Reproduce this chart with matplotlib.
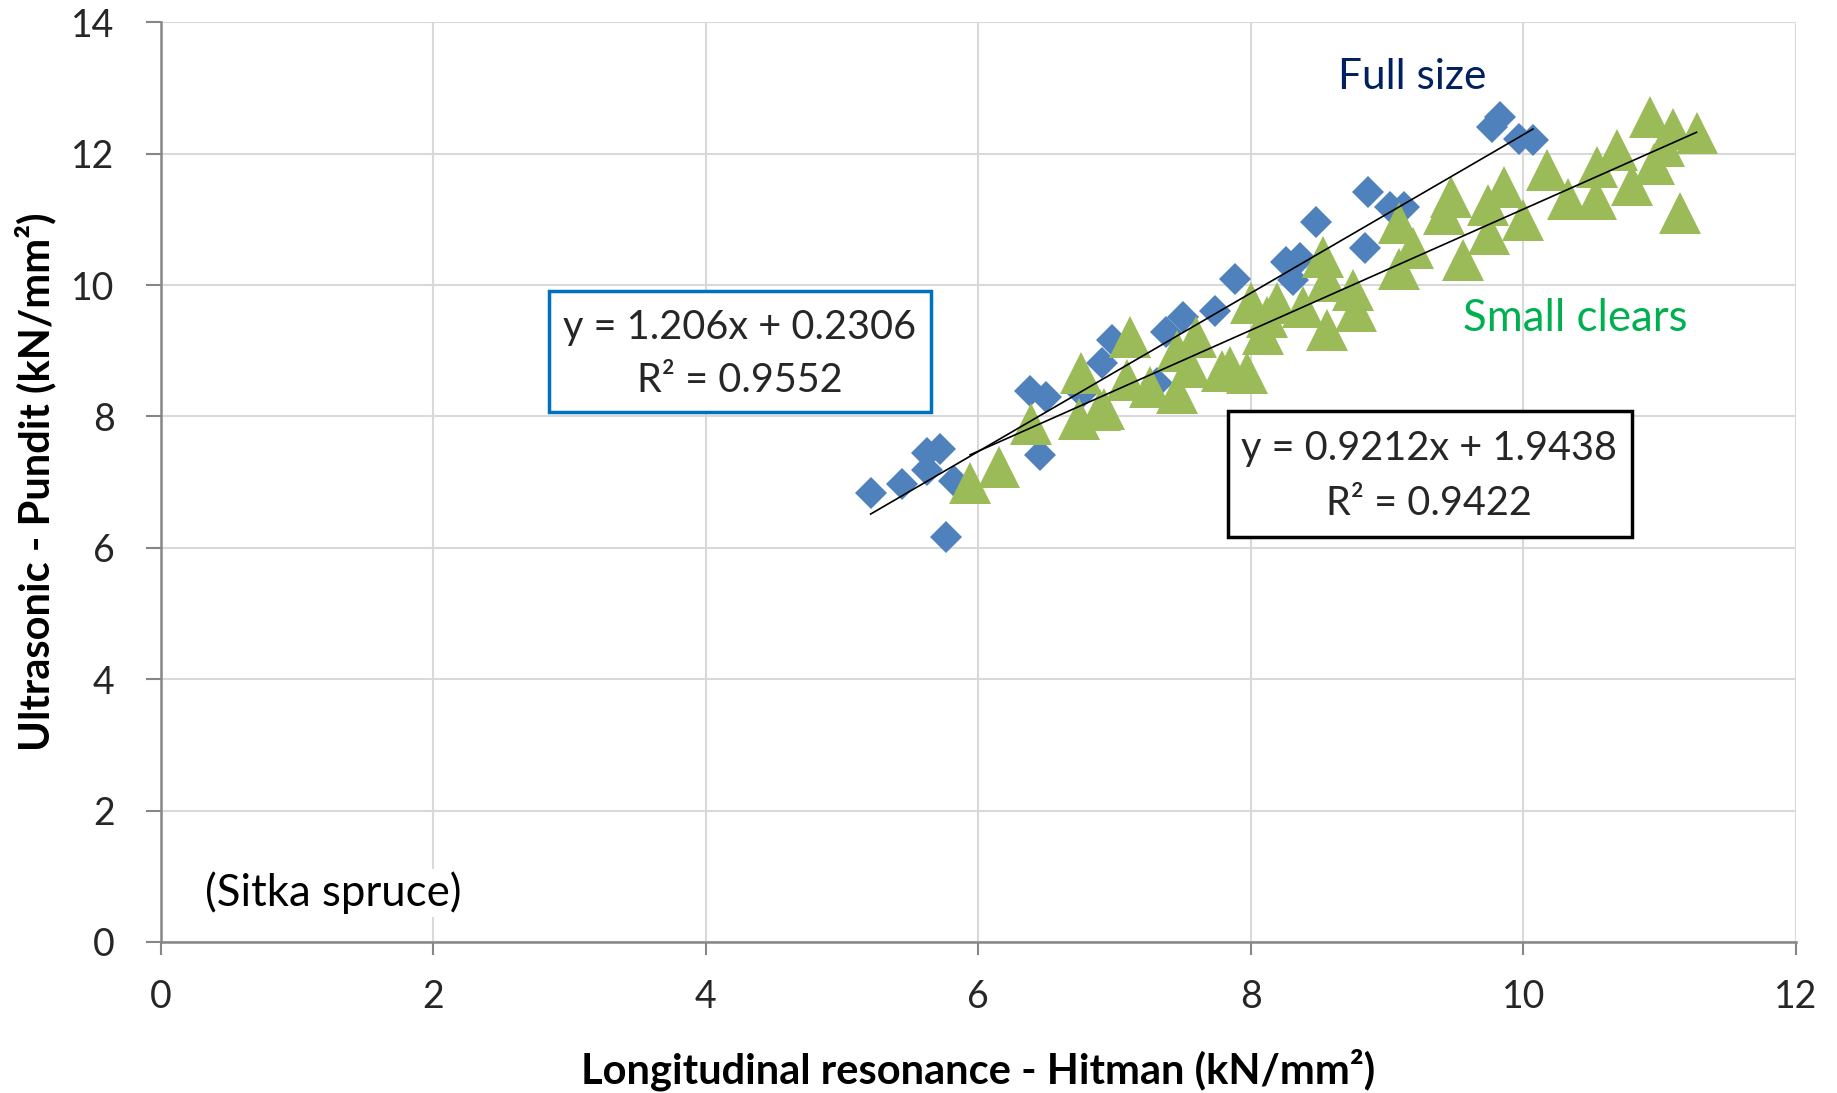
import matplotlib
matplotlib.use("Agg")
import matplotlib.pyplot as plt
from matplotlib.patches import Rectangle
import numpy as np

plt.rcParams['font.family'] = ['Lato', 'DejaVu Sans']

# Full size (blue diamonds)
full_x = [5.21, 5.44, 5.62, 5.62, 5.72, 5.76, 5.82, 6.38, 6.50, 6.45, 6.76, 6.91, 6.98,
          7.31, 7.38, 7.50, 7.74, 7.88, 8.26, 8.36, 8.31, 8.48, 8.84, 8.86, 9.02, 9.12,
          9.77, 9.83, 9.97, 10.07]
full_y = [6.83, 6.97, 7.19, 7.44, 7.51, 6.17, 7.01, 8.38, 8.29, 7.41, 8.36, 8.81, 9.17,
          8.51, 9.29, 9.52, 9.60, 10.09, 10.35, 10.41, 10.08, 10.96, 10.56, 11.42, 11.19, 11.19,
          12.41, 12.56, 12.23, 12.21]

# Small clears (green triangles)
small_x = [5.94, 6.15, 6.39, 6.74, 6.75, 6.89, 6.92, 7.11, 7.09, 7.26, 7.46, 7.46, 7.60,
           7.55, 7.85, 7.97, 7.79, 8.00, 8.12, 8.09, 8.19, 8.38, 8.53, 8.56, 8.56, 8.75,
           8.77, 9.09, 9.09, 9.19, 9.42, 9.47, 9.56, 9.75, 9.74, 9.86, 10.00, 10.17, 10.33,
           10.53, 10.54, 10.69, 10.80, 10.93, 10.96, 11.03, 11.10, 11.15, 11.27]
small_y = [6.98, 7.23, 7.89, 7.96, 8.66, 8.10, 8.12, 9.21, 8.55, 8.45, 8.36, 8.99, 9.21,
           8.76, 8.76, 8.66, 8.69, 9.72, 9.52, 9.26, 9.72, 9.67, 10.43, 9.32, 10.06, 9.93,
           9.61, 10.24, 10.95, 10.56, 11.08, 11.34, 10.38, 10.77, 11.22, 11.50, 10.99, 11.75, 11.31,
           11.31, 11.80, 12.06, 11.52, 12.56, 11.84, 12.11, 12.38, 11.09, 12.31]

# Trend line coefficients (from the chart's equations)
full_slope, full_icpt, full_r2 = 1.206, 0.2306, 0.9552
small_slope, small_icpt, small_r2 = 0.9212, 1.9438, 0.9422

x_ticks = [0, 2, 4, 6, 8, 10, 12]
y_ticks = [0, 2, 4, 6, 8, 10, 12, 14]

fig = plt.figure(figsize=(18.37, 10.93), dpi=100)
ax = fig.add_axes([0.0874, 0.1382, 0.8903, 0.8414])

ax.set_xlim(0, 12)
ax.set_ylim(0, 14)
ax.set_xticks(x_ticks)
ax.set_yticks(y_ticks)
ax.grid(True, color='#D9D9D9', linewidth=1.5, zorder=0)
ax.set_axisbelow(True)
for s in ['top', 'right']:
    ax.spines[s].set_visible(False)
for s in ['left', 'bottom']:
    ax.spines[s].set_color('#868686')
    ax.spines[s].set_linewidth(1.8)
ax.tick_params(axis='y', length=11, width=1.5, color='#868686', labelsize=27, pad=22, labelcolor='#262626')
ax.tick_params(axis='x', length=9, width=1.5, color='#868686', labelsize=27, pad=18, labelcolor='#262626')

ax.plot(full_x, full_y, linestyle='none', marker='D', markersize=16.5,
        color='#4F81BD', markeredgewidth=0, zorder=3)
ax.plot(small_x, small_y, linestyle='none', marker='^', markersize=30,
        color='#9BBB59', markeredgewidth=0, zorder=4)

fx = np.array([min(full_x), max(full_x)])
ax.plot(fx, full_slope * fx + full_icpt, color='black', linewidth=1.2, zorder=5)
sx = np.array([min(small_x), max(small_x)])
ax.plot(sx, small_slope * sx + small_icpt, color='black', linewidth=1.2, zorder=5)

# Equation boxes
ax.add_patch(Rectangle((2.85, 8.06), 2.80, 1.85, fill=True, facecolor='white',
                       edgecolor='#0070C0', linewidth=2.5, zorder=6))
ax.text(4.25, 9.36, f"y = {full_slope}x + {full_icpt}", ha='center', va='center',
        fontsize=28.5, color='#262626', zorder=7)
ax.text(4.25, 8.54, f"R² = {full_r2}", ha='center', va='center',
        fontsize=28.5, color='#262626', zorder=7)

ax.add_patch(Rectangle((7.83, 6.17), 2.97, 1.91, fill=True, facecolor='white',
                       edgecolor='black', linewidth=2.5, zorder=6))
ax.text(9.31, 7.51, f"y = {small_slope}x + {small_icpt}", ha='center', va='center',
        fontsize=28.5, color='#262626', zorder=7)
ax.text(9.31, 6.67, f"R² = {small_r2}", ha='center', va='center',
        fontsize=28.5, color='#262626', zorder=7)

ax.text(9.18, 13.16, "Full size", ha='center', va='center', fontsize=30.5, color='#002060', zorder=7)
ax.text(10.38, 9.49, "Small clears", ha='center', va='center', fontsize=31.5, color='#00B050', zorder=7)
ax.text(1.27, 0.75, "(Sitka spruce)", ha='center', va='center', fontsize=31.5, color='black', zorder=7,
        bbox=dict(facecolor='white', edgecolor='none', pad=2))

ax.set_xlabel("Longitudinal resonance - Hitman (kN/mm²)", fontsize=30, fontweight='bold')
ax.set_ylabel("Ultrasonic - Pundit (kN/mm²)", fontsize=30, fontweight='bold')
ax.xaxis.label.set_va('center')
ax.yaxis.label.set_va('center')
ax.xaxis.set_label_coords(0.5, -0.139)
ax.yaxis.set_label_coords(-0.0767, 0.5)

fig.savefig("out.png", dpi=100)
